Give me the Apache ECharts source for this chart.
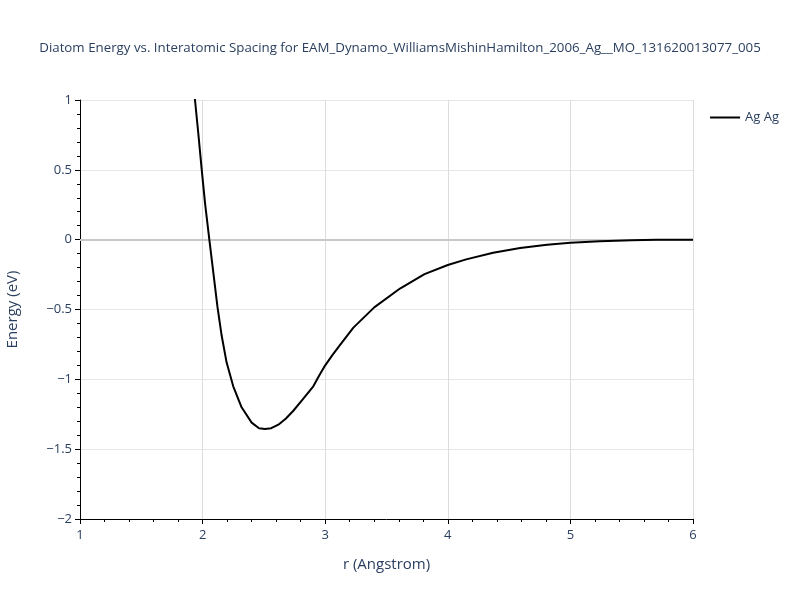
<!DOCTYPE html>
<html>
<head>
<meta charset="utf-8">
<script src="https://cdn.jsdelivr.net/npm/echarts@6/dist/echarts.min.js"></script>
<style>html,body{margin:0;padding:0;background:#fff}#c{width:800px;height:600px}</style>
</head>
<body>
<div id="c"></div>
<script>
const titleText = 'Diatom Energy vs. Interatomic Spacing for EAM_Dynamo_WilliamsMishinHamilton_2006_Ag__MO_131620013077_005';
const seriesName = 'Ag Ag';
const rValues = [1.90, 1.938, 1.965, 1.993, 2.02, 2.055, 2.088, 2.121, 2.156, 2.196, 2.25, 2.318, 2.40, 2.46, 2.509, 2.56, 2.618, 2.68, 2.74, 2.82, 2.903, 2.95, 3.0, 3.06, 3.12, 3.23, 3.40, 3.61, 3.81, 4.0, 4.15, 4.37, 4.59, 4.81, 5.0, 5.24, 5.5, 5.7, 6.0];
const energyValues = [1.34, 1.0, 0.76, 0.50, 0.26, 0.0, -0.24, -0.48, -0.69, -0.88, -1.05, -1.20, -1.31, -1.35, -1.356, -1.35, -1.325, -1.28, -1.225, -1.14, -1.05, -0.975, -0.90, -0.825, -0.755, -0.63, -0.485, -0.35, -0.247, -0.181, -0.141, -0.093, -0.060, -0.036, -0.022, -0.012, -0.004, 0.0, 0.0];
const xTicks = [1, 2, 3, 4, 5, 6];
const yTicks = [-2, -1.5, -1, -0.5, 0, 0.5, 1];

const txt = '#2a3f5f';
const fmt = v => (v < 0 ? '\u2212' + Math.abs(v) : String(v));
const chart = echarts.init(document.getElementById('c'));
chart.setOption({
  animation: false,
  title: {
    text: titleText, left: 'center', top: 37,
    textStyle: {fontFamily: 'Open Sans, sans-serif', fontSize: 13.3, fontWeight: 'normal', color: txt}
  },
  legend: {
    data: [seriesName], right: 16, top: 106, itemWidth: 30, itemHeight: 14, itemGap: 5,
    icon: 'path://M0,6 L30,6 L30,8 L0,8 Z',
    textStyle: {fontFamily: 'Open Sans, sans-serif', fontSize: 13, color: txt}
  },
  grid: {left: 80, right: 107, top: 100, bottom: 81, containLabel: false, outerBoundsMode: 'none'},
  xAxis: {
    type: 'value', min: xTicks[0], max: xTicks[xTicks.length - 1], interval: 1,
    name: 'r (Angstrom)', nameLocation: 'middle', nameGap: 38,
    nameTextStyle: {fontFamily: 'Open Sans, sans-serif', fontSize: 15, color: txt},
    axisLine: {show: true, onZero: false, lineStyle: {color: '#000', width: 1}},
    axisTick: {show: true, inside: false, length: 5, lineStyle: {color: '#000'}},
    minorTick: {show: true, splitNumber: 5, length: 3, lineStyle: {color: '#000'}},
    axisLabel: {fontFamily: 'Open Sans, sans-serif', fontSize: 13, color: txt, margin: 10, formatter: fmt},
    splitLine: {show: true, lineStyle: {color: '#dcdcdc', width: 1}}
  },
  yAxis: {
    type: 'value', min: yTicks[0], max: yTicks[yTicks.length - 1], interval: 0.5,
    name: 'Energy (eV)', nameLocation: 'middle', nameGap: 60,
    nameTextStyle: {fontFamily: 'Open Sans, sans-serif', fontSize: 15, color: txt},
    axisLine: {show: true, onZero: false, lineStyle: {color: '#000', width: 1}},
    axisTick: {show: true, inside: false, length: 5, lineStyle: {color: '#000'}},
    minorTick: {show: true, splitNumber: 5, length: 3, lineStyle: {color: '#000'}},
    axisLabel: {fontFamily: 'Open Sans, sans-serif', fontSize: 13, color: txt, margin: 8, formatter: fmt},
    splitLine: {show: true, lineStyle: {color: '#e6e6e6', width: 1}}
  },
  series: [{
    name: seriesName, type: 'line', showSymbol: false, symbol: 'none', clip: true,
    data: rValues.map((r, i) => [r, energyValues[i]]),
    lineStyle: {color: '#000', width: 2}, itemStyle: {color: '#000'},
    markLine: {
      silent: true, symbol: 'none', label: {show: false},
      lineStyle: {color: '#c8c8c8', width: 2, type: 'solid'},
      data: [{yAxis: 0}], z: 1
    }
  }]
});
</script>
</body>
</html>
